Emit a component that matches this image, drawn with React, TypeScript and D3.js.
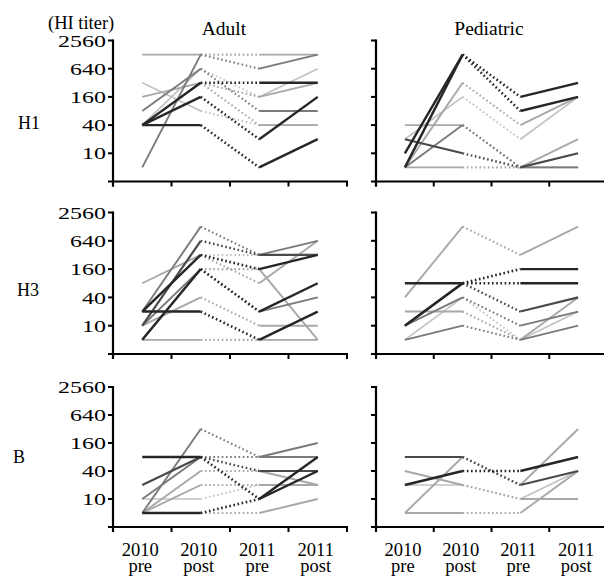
import React from "react";
import * as d3 from "d3";

const TIMEPOINTS = ["2010 pre", "2010 post", "2011 pre", "2011 post"];
const Y_TICKS = [10, 40, 160, 640, 2560];
const GROUPS = ["Adult", "Pediatric"];
const STRAINS = ["H1", "H3", "B"];

// HI titers per subject: [2010 pre, 2010 post, 2011 pre, 2011 post]
const adultH1 = [
  [1280, 1280, 1280, 1280],
  [5, 1280, 640, 1280],
  [40, 640, 160, 640],
  [40, 320, 320, 320],
  [320, 80, 40, 40],
  [160, 320, 160, 320],
  [40, 160, 20, 160],
  [40, 40, 5, 20],
  [80, 640, 80, 80],
  [40, 320, 40, 40],
];
const adultH1Shade = ["light", "mid", "pale", "dark", "pale", "light", "dark", "dark", "mid", "light"];

const pediatricH1 = [
  [10, 1280, 160, 320],
  [5, 1280, 80, 160],
  [5, 320, 40, 160],
  [20, 160, 20, 160],
  [40, 40, 5, 20],
  [20, 10, 5, 10],
  [5, 40, 5, 5],
  [5, 5, 5, 5],
];
const pediatricH1Shade = ["dark", "dark", "light", "pale", "light", "dmid", "mid", "light"];

const adultH3 = [
  [20, 1280, 320, 640],
  [10, 640, 320, 320],
  [20, 320, 160, 320],
  [80, 320, 80, 640],
  [5, 160, 20, 80],
  [5, 160, 160, 5],
  [20, 20, 5, 20],
  [10, 40, 10, 10],
  [5, 5, 5, 5],
  [10, 160, 20, 40],
  [20, 320, 320, 320],
];
const adultH3Shade = ["mid", "dmid", "dark", "light", "dark", "light", "dark", "light", "light", "mid", "pale"];

const pediatricH3 = [
  [40, 1280, 320, 1280],
  [80, 80, 160, 160],
  [10, 80, 80, 80],
  [10, 80, 20, 40],
  [10, 40, 10, 20],
  [20, 20, 5, 40],
  [5, 40, 5, 20],
  [5, 10, 5, 10],
];
const pediatricH3Shade = ["light", "dark", "dark", "dmid", "mid", "light", "pale", "mid"];

const adultB = [
  [80, 80, 10, 80],
  [20, 80, 40, 40],
  [5, 320, 80, 160],
  [10, 80, 80, 80],
  [5, 40, 40, 20],
  [10, 10, 20, 20],
  [5, 5, 10, 40],
  [5, 20, 20, 20],
  [5, 5, 5, 10],
];
const adultBShade = ["dark", "dmid", "mid", "mid", "light", "pale", "dark", "light", "light"];

const pediatricB = [
  [20, 40, 40, 80],
  [80, 80, 20, 40],
  [40, 20, 10, 10],
  [5, 80, 20, 320],
  [20, 20, 10, 40],
  [5, 5, 5, 40],
];
const pediatricBShade = ["dark", "dmid", "light", "light", "pale", "light"];

const PANEL_DATA = [
  [adultH1, pediatricH1],
  [adultH3, pediatricH3],
  [adultB, pediatricB],
];
const PANEL_SHADES = [
  [adultH1Shade, pediatricH1Shade],
  [adultH3Shade, pediatricH3Shade],
  [adultBShade, pediatricBShade],
];

const SHADE_COLOR: Record<string, string> = {
  dark: "#262626",
  dmid: "#4a4a4a",
  mid: "#7a7a7a",
  light: "#a8a8a8",
  pale: "#c2c2c2",
};
const SHADE_WIDTH: Record<string, number> = {
  dark: 2.4,
  dmid: 2.2,
  mid: 1.9,
  light: 1.9,
  pale: 1.7,
};

const W = 604;
const H = 578;
const COLS = [
  { x0: 113, x1: 347 },
  { x0: 376, x1: 607 },
];
const ROWS = [
  { top: 40.5, bottom: 181.5 },
  { top: 212.5, bottom: 354 },
  { top: 387, bottom: 527 },
];
const ROW_LABEL_POS = [
  { x: 18, y: 129 },
  { x: 17, y: 296 },
  { x: 13, y: 463 },
];
const SERIF = "Liberation Serif";

function Panel({ row, col }: { row: number; col: number }) {
  const { x0, x1 } = COLS[col];
  const { top, bottom } = ROWS[row];
  const x = d3.scalePoint<string>().domain(TIMEPOINTS).range([x0, x1]).padding(0.5);
  const y = d3.scaleLog().domain([2.5, 2560]).range([bottom, top]);
  const step = x.step();
  const data = PANEL_DATA[row][col];
  const shades = PANEL_SHADES[row][col];
  const tickXs = d3.range(TIMEPOINTS.length + 1).map((i) => x0 + i * step);

  const rank = ["pale", "light", "mid", "dmid", "dark"];
  const order = d3.range(data.length).sort((a, b) => rank.indexOf(shades[a]) - rank.indexOf(shades[b]));

  return (
    <g>
      {order.map((si) => {
        const vals = data[si];
        const color = SHADE_COLOR[shades[si]];
        const sw = SHADE_WIDTH[shades[si]];
        return (
          <g key={si}>
            {vals.slice(0, -1).map((v, i) => {
              const dotted = i === 1;
              return (
                <line
                  key={i}
                  x1={x(TIMEPOINTS[i])!}
                  y1={y(v)}
                  x2={x(TIMEPOINTS[i + 1])!}
                  y2={y(vals[i + 1])}
                  stroke={color}
                  strokeWidth={dotted ? sw + 0.2 : sw}
                  strokeDasharray={dotted ? "1.6,2.6" : undefined}
                />
              );
            })}
          </g>
        );
      })}
      <line x1={x0} y1={top - 1} x2={x0} y2={bottom + 5} stroke="#000" strokeWidth={2.2} />
      {Y_TICKS.map((t) => (
        <line key={t} x1={x0 - 5} y1={y(t)} x2={x0} y2={y(t)} stroke="#000" strokeWidth={2} />
      ))}
      {col === 0 &&
        Y_TICKS.map((t) => (
          <text
            key={"l" + t}
            x={x0 - 7}
            y={y(t)}
            dy="0.36em"
            textAnchor="end"
            fontFamily={SERIF}
            fontSize={17}
            textLength={String(t).length * 12}
            lengthAdjust="spacingAndGlyphs"
            fill="#000"
          >
            {t}
          </text>
        ))}
      <line x1={x0 - 5} y1={bottom} x2={x1 + 1} y2={bottom} stroke="#000" strokeWidth={2.2} />
      {tickXs.map((tx, i) => (
        <line key={i} x1={tx} y1={bottom} x2={tx} y2={bottom + 5} stroke="#000" strokeWidth={2} />
      ))}
      {row === 2 &&
        TIMEPOINTS.map((tp) => {
          const [yr, ph] = tp.split(" ");
          return (
            <g key={tp}>
              <text x={x(tp)! - 2} y={555.5} textAnchor="middle" fontFamily={SERIF} fontSize={18.5} fill="#000">
                {yr}
              </text>
              <text x={x(tp)! - 2} y={571.5} textAnchor="middle" fontFamily={SERIF} fontSize={18.5} fill="#000">
                {ph}
              </text>
            </g>
          );
        })}
    </g>
  );
}

export default function App() {
  return (
    <svg
      width={W}
      height={H}
      viewBox={`0 0 ${W} ${H}`}
      style={{ position: "absolute", left: 0, top: 0, background: "#fff" }}
    >
      <rect width={W} height={H} fill="#fff" />
      <text x={48} y={28.5} fontFamily={SERIF} fontSize={18.5} fill="#000">
        (HI titer)
      </text>
      <text x={224} y={34.5} textAnchor="middle" fontFamily={SERIF} fontSize={19.5} fill="#000">
        {GROUPS[0]}
      </text>
      <text x={489} y={34.5} textAnchor="middle" fontFamily={SERIF} fontSize={19.5} fill="#000">
        {GROUPS[1]}
      </text>
      {STRAINS.map((s, r) => (
        <text key={s} x={ROW_LABEL_POS[r].x} y={ROW_LABEL_POS[r].y} fontFamily={SERIF} fontSize={18} fill="#000">
          {s}
        </text>
      ))}
      {ROWS.map((_, r) => COLS.map((_, c) => <Panel key={r + "-" + c} row={r} col={c} />))}
    </svg>
  );
}
